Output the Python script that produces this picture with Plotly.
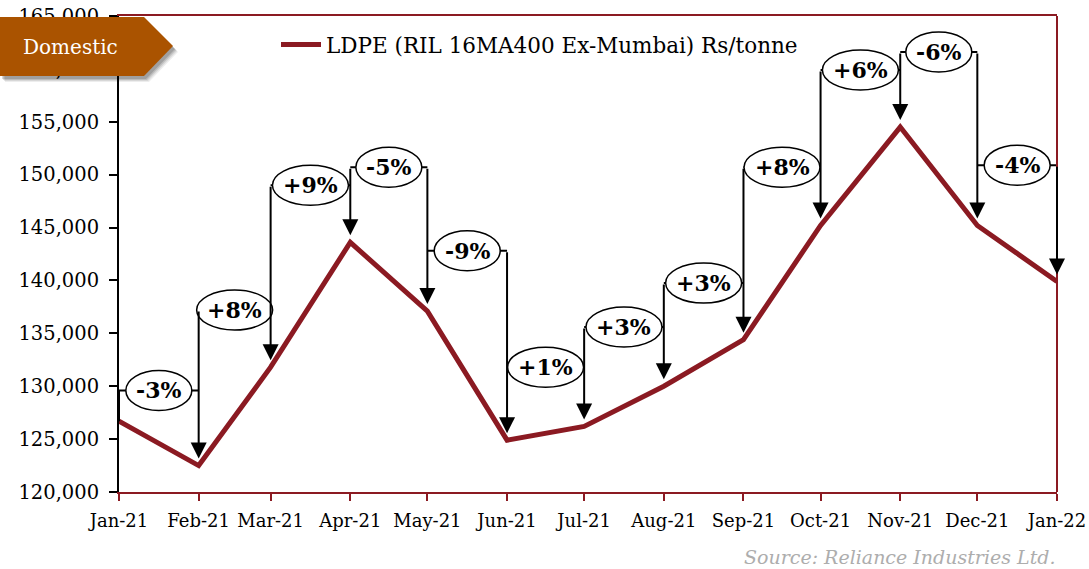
import pandas as pd
import plotly.graph_objects as go

# Monthly LDPE price, Rs/tonne
months = ["2021-01-01", "2021-02-01", "2021-03-01", "2021-04-01", "2021-05-01",
          "2021-06-01", "2021-07-01", "2021-08-01", "2021-09-01", "2021-10-01",
          "2021-11-01", "2021-12-01", "2022-01-01"]
prices = [126700, 122500, 131800, 143600, 137100, 124900, 126200,
          130000, 134400, 145200, 154500, 145200, 139900]

# Height (in Rs/tonne) of each month-on-month change callout
callout_levels = [129600, 137200, 149000, 150700, 142800, 131800,
                  135600, 139750, 150700, 159900, 161600, 150900]

series_name = "LDPE (RIL 16MA400 Ex-Mumbai) Rs/tonne"
badge_text = "Domestic"
source_text = "Source: Reliance Industries Ltd."

LINE_RED = "#8B1A22"
AXIS_RED = "#8B1A22"
BADGE = "#AA5300"
FONT = "Georgia, 'DejaVu Serif', serif"

W, H = 1089, 569
ML, MR, MT, MB = 119, 32, 16, 77
PW, PH = W - ML - MR, H - MT - MB


def px_x(px):
    return (px - ML) / PW


def px_y(py):
    return (H - MB - py) / PH


dates = pd.to_datetime(months)
fmt = "%Y-%m-%d %H:%M:%S"

fig = go.Figure()
fig.add_trace(go.Scatter(
    x=months, y=prices, mode="lines", name=series_name,
    line=dict(color=LINE_RED, width=5),
    showlegend=True,
))

shapes = []
annotations = []

# Month-on-month change callouts
for i in range(len(prices) - 1):
    lvl = callout_levels[i]
    pct = (prices[i + 1] / prices[i] - 1) * 100
    label = f"{int(round(pct)):+d}%"
    mid = (dates[i] + (dates[i + 1] - dates[i]) / 2).strftime(fmt)
    shapes.append(dict(type="line", xref="x", yref="y",
                       x0=months[i], x1=months[i + 1], y0=lvl, y1=lvl,
                       line=dict(color="black", width=2), layer="above"))
    w = 76 if label.startswith("+") else 66
    shapes.append(dict(type="circle", xref="x", yref="y",
                       xsizemode="pixel", ysizemode="pixel",
                       xanchor=mid, yanchor=lvl,
                       x0=-w / 2, x1=w / 2, y0=-20, y1=20,
                       fillcolor="white", line=dict(color="black", width=1.5),
                       layer="above"))
    annotations.append(dict(x=mid, y=lvl, xref="x", yref="y", text=f"<b>{label}</b>",
                            showarrow=False, font=dict(family=FONT, size=22, color="black")))

# left leg of the first callout
shapes.append(dict(type="line", xref="x", yref="y",
                   x0=months[0], x1=months[0], y0=callout_levels[0], y1=prices[0],
                   line=dict(color="black", width=2), layer="above"))

# arrows pointing down at each month's price
for k in range(1, len(prices)):
    top = callout_levels[k - 1]
    if k < len(callout_levels):
        top = max(top, callout_levels[k])
    annotations.append(dict(x=months[k], y=prices[k], ax=months[k], ay=top,
                            xref="x", yref="y", axref="x", ayref="y",
                            text="", showarrow=True, arrowhead=2, arrowsize=1.6,
                            arrowwidth=2, arrowcolor="black", standoff=7))

# right-hand frame line
shapes.append(dict(type="line", xref="paper", yref="paper", x0=1, x1=1, y0=0, y1=1,
                   line=dict(color=AXIS_RED, width=2), layer="above"))

# "Domestic" badge with a soft shadow
badge_pts = [(0, 17), (144, 17), (173, 46), (144, 76), (0, 76)]


def badge_path(dx, dy):
    pts = [(px_x(x + dx), px_y(y + dy)) for x, y in badge_pts]
    return "M " + " L ".join(f"{a:.5f},{b:.5f}" for a, b in pts) + " Z"


for off, alpha in [(6, 0.07), (5, 0.09), (4, 0.12), (3, 0.15)]:
    shapes.append(dict(type="path", xref="paper", yref="paper", path=badge_path(off - 1, off),
                       fillcolor=f"rgba(0,0,0,{alpha})", line=dict(width=0), layer="above"))
shapes.append(dict(type="path", xref="paper", yref="paper", path=badge_path(0, 0),
                   fillcolor=BADGE, line=dict(width=0), layer="above"))

annotations.append(dict(x=px_x(70), y=px_y(47), xref="paper", yref="paper",
                        xanchor="center", yanchor="middle",
                        text=badge_text, showarrow=False,
                        font=dict(family=FONT, size=20, color="white")))

annotations.append(dict(x=1, y=px_y(557), xref="paper", yref="paper",
                        xanchor="right", yanchor="middle",
                        text=f"<i>{source_text}</i>", showarrow=False,
                        font=dict(family=FONT, size=19, color="#ADADAD")))

fig.update_layout(
    width=W, height=H,
    margin=dict(l=ML, r=MR, t=MT, b=MB, pad=0, autoexpand=False),
    paper_bgcolor="white", plot_bgcolor="white",
    font=dict(family=FONT, color="black"),
    shapes=shapes, annotations=annotations,
    legend=dict(x=px_x(276), y=px_y(24), xanchor="left", yanchor="top",
                bgcolor="rgba(0,0,0,0)", font=dict(family=FONT, size=21.5, color="black"),
                itemwidth=40),
    xaxis=dict(
        type="date", range=[months[0], months[-1]], automargin=False,
        tickvals=months, tickformat="%b-%y",
        showgrid=False, zeroline=False,
        showline=True, linecolor=AXIS_RED, linewidth=2, mirror=True,
        ticks="outside", ticklen=7, tickcolor=AXIS_RED, tickwidth=2,
        ticklabelstandoff=4,
        tickfont=dict(family=FONT, size=18, color="black"),
    ),
    yaxis=dict(
        range=[120000, 165000], dtick=5000, tickformat=",", automargin=False,
        showgrid=False, zeroline=False,
        showline=True, linecolor="black", linewidth=2,
        ticks="outside", ticklen=8, tickcolor="black", tickwidth=2,
        ticklabelstandoff=6,
        tickfont=dict(family=FONT, size=19.5, color="black"),
    ),
)

fig.write_html("out.html")
